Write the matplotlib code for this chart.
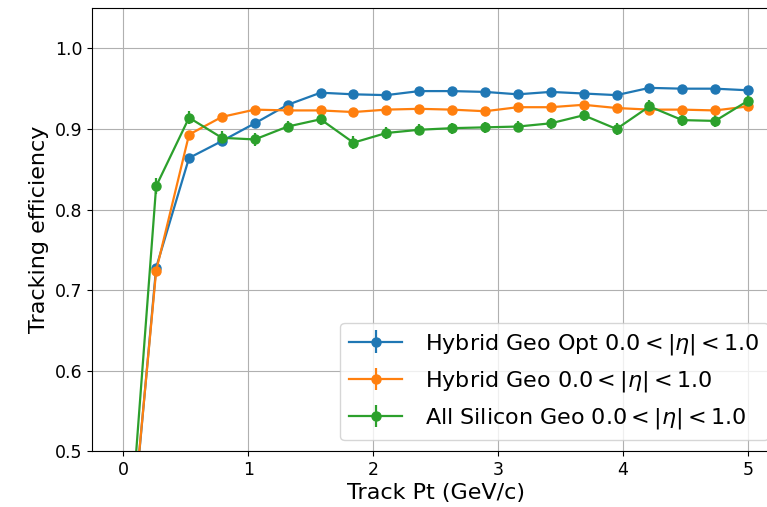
import numpy as np
import matplotlib
matplotlib.use("Agg")
import matplotlib.pyplot as plt

# track pt bin centres (GeV/c)
pt = np.linspace(0, 5, 20)

eff_hybrid_opt = [0.28, 0.728, 0.864, 0.885, 0.907, 0.930, 0.945, 0.943, 0.942, 0.947,
                  0.947, 0.946, 0.943, 0.946, 0.944, 0.942, 0.951, 0.950, 0.950, 0.948]
err_hybrid_opt = [0.01, 0.004, 0.003, 0.003, 0.003, 0.003, 0.003, 0.003, 0.003, 0.003,
                  0.003, 0.003, 0.003, 0.003, 0.003, 0.003, 0.003, 0.003, 0.003, 0.003]

eff_hybrid = [0.287, 0.724, 0.893, 0.915, 0.924, 0.923, 0.923, 0.921, 0.924, 0.925,
              0.924, 0.922, 0.927, 0.927, 0.930, 0.926, 0.924, 0.924, 0.923, 0.928]
err_hybrid = [0.01, 0.004, 0.003, 0.003, 0.003, 0.003, 0.003, 0.003, 0.003, 0.003,
              0.003, 0.003, 0.003, 0.003, 0.003, 0.003, 0.003, 0.003, 0.003, 0.003]

eff_all_si = [0.286, 0.829, 0.914, 0.889, 0.887, 0.903, 0.912, 0.883, 0.895, 0.899,
              0.901, 0.902, 0.903, 0.907, 0.917, 0.900, 0.928, 0.911, 0.910, 0.935]
err_all_si = [0.012, 0.010, 0.008, 0.008, 0.008, 0.007, 0.007, 0.008, 0.007, 0.007,
              0.007, 0.007, 0.007, 0.007, 0.007, 0.008, 0.008, 0.007, 0.007, 0.007]

labels = [
    r"Hybrid Geo Opt $0.0 < |\eta| < 1.0$",
    r"Hybrid Geo $0.0 < |\eta| < 1.0$",
    r"All Silicon Geo $0.0 < |\eta| < 1.0$",
]

fig = plt.figure(figsize=(7.67, 5.07), dpi=100)
ax = fig.add_axes([0.12, 0.11, 0.896, 0.874])

for eff, err, lab in zip([eff_hybrid_opt, eff_hybrid, eff_all_si],
                         [err_hybrid_opt, err_hybrid, err_all_si], labels):
    ax.errorbar(pt, eff, yerr=err, marker="o", markersize=6.5, linewidth=1.6,
                elinewidth=1.6, label=lab)

ax.set_ylim(0.5, 1.05)
ax.set_xlim(-0.25, 5.25)
ax.set_yticks([0.5, 0.6, 0.7, 0.8, 0.9, 1.0])
ax.tick_params(labelsize=12.5)
ax.set_xlabel("Track Pt (GeV/c)", fontsize=16, labelpad=3)
ax.set_ylabel("Tracking efficiency", fontsize=16)
ax.grid(True)
ax.legend(loc="lower right", fontsize=16, handlelength=2.4, handletextpad=1.0,
          labelspacing=0.55)

fig.savefig("out.png", dpi=100)
